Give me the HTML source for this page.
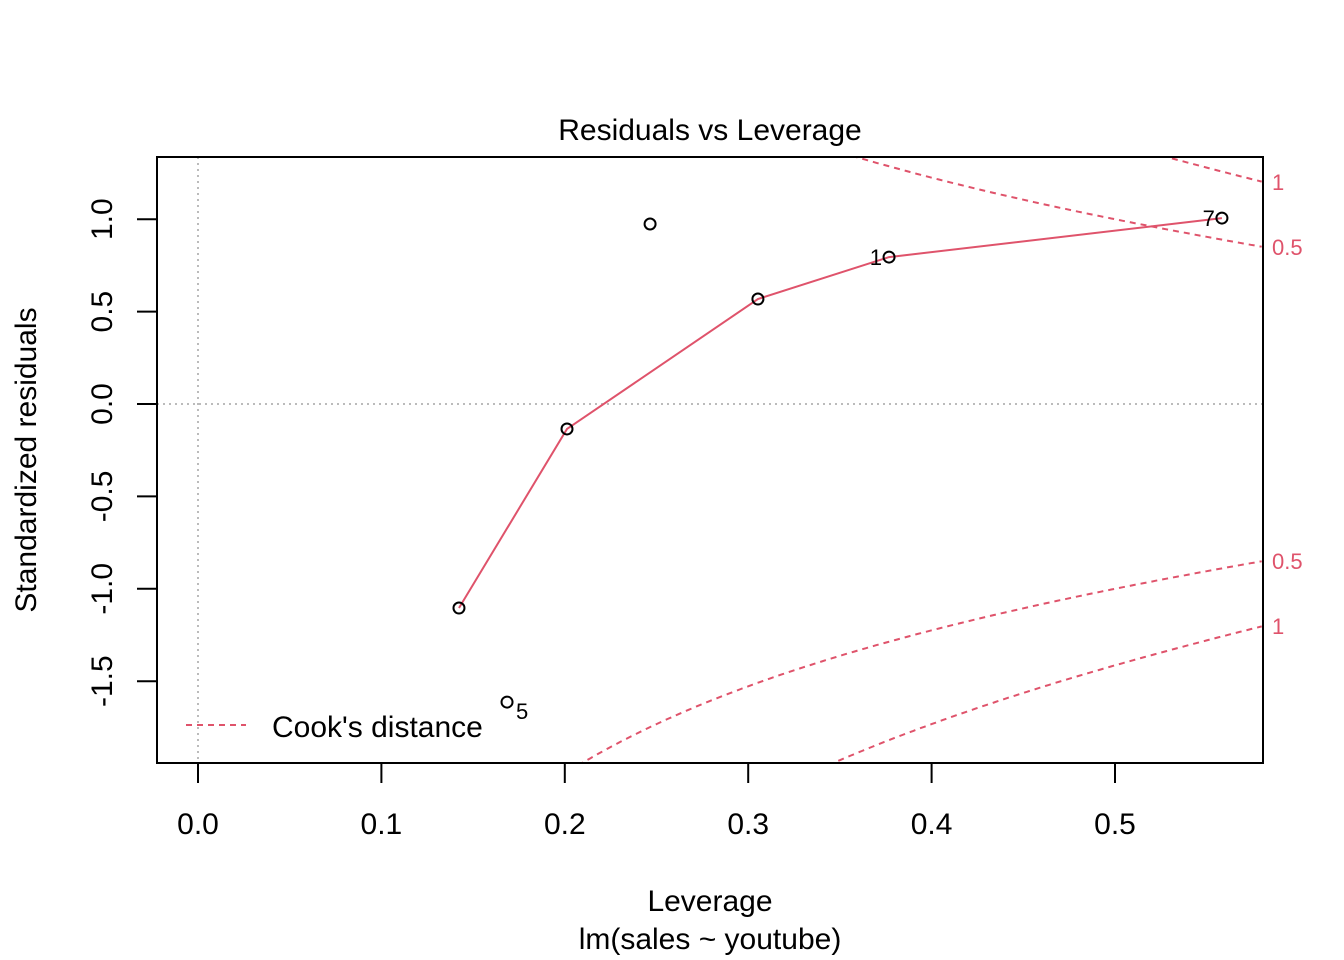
<!DOCTYPE html>
<html><head><meta charset="utf-8"><style>
html,body{margin:0;padding:0;background:#fff;overflow:hidden;width:1344px;height:960px}
svg{display:block}
svg text{font-family:"Liberation Sans",Arial,sans-serif}
</style></head><body>
<svg id="chart" width="1344" height="960">
<defs><clipPath id="clip"><rect x="157" y="157" width="1106" height="606"/></clipPath></defs>
<text x="710" y="140" font-size="30" text-anchor="middle">Residuals vs Leverage</text>
<text x="710" y="911" font-size="30" text-anchor="middle">Leverage</text>
<text x="710" y="949" font-size="30" text-anchor="middle">lm(sales ~ youtube)</text>
<text transform="translate(36,460) rotate(-90)" font-size="30" text-anchor="middle">Standardized residuals</text>
<g id="xaxis"></g>
<g id="yaxis"></g>
<g id="plot" clip-path="url(#clip)"></g>
<g id="pts"></g>
<g id="cooklabels"></g>
<rect x="157" y="157" width="1106" height="606" fill="none" stroke="#000" stroke-width="2"/>
<g>
<line x1="186" y1="725" x2="246" y2="725" stroke="#DF536B" stroke-width="2" stroke-dasharray="6,5"/>
<text x="272" y="737" font-size="30">Cook's distance</text>
</g>
</svg>
<script>
const leverage=[0.1423,0.1685,0.2012,0.2465,0.3053,0.3768,0.5583];
const residuals=[-1.104,-1.613,-0.135,0.974,0.568,0.795,1.006];
const pointIds=["","5","","","","1","7"];
const smoothX=[0.1423,0.2012,0.3053,0.3768,0.5583];
const smoothY=[-1.104,-0.135,0.568,0.795,1.006];
const xTicks=[0.0,0.1,0.2,0.3,0.4,0.5];
const yTicks=[1.0,0.5,0.0,-0.5,-1.0,-1.5];
const cookLevels=[0.5,1];
const NS="http://www.w3.org/2000/svg";
const X=v=>198+v*1834;
const Y=v=>404-v*184.8;
function mk(t,a,p){const e=document.createElementNS(NS,t);for(const k in a)e.setAttribute(k,a[k]);p.appendChild(e);return e;}
const xa=document.getElementById('xaxis'),ya=document.getElementById('yaxis'),pl=document.getElementById('plot'),pg=document.getElementById('pts'),cl=document.getElementById('cooklabels');
xTicks.forEach(t=>{const l=mk('line',{x1:X(t),x2:X(t),y1:763,y2:783,stroke:'#000','stroke-width':2},xa);


const tx=mk('text',{x:X(t),y:834,'font-size':30,'text-anchor':'middle'},xa);tx.textContent=t.toFixed(1);

});
yTicks.forEach(t=>{const l=mk('line',{x1:137,x2:157,y1:Y(t),y2:Y(t),stroke:'#000','stroke-width':2},ya);


const tx=mk('text',{transform:`translate(112,${Y(t)}) rotate(-90)`,'font-size':30,'text-anchor':'middle'},ya);tx.textContent=t.toFixed(1);

});
let g=mk('line',{x1:X(0),x2:X(0),y1:157,y2:763,stroke:'#bbb','stroke-width':2,'stroke-dasharray':'2,4'},pl);


g=mk('line',{x1:157,x2:1263,y1:Y(0),y2:Y(0),stroke:'#bbb','stroke-width':2,'stroke-dasharray':'2,4'},pl);


cookLevels.forEach(c=>{[1,-1].forEach(s=>{let d='';for(let h=0.01;h<=0.582;h+=0.002){const r=s*Math.sqrt(c*2*(1-h)/h);d+=(d?'L':'M')+X(h).toFixed(1)+','+Y(r).toFixed(1);}
const p=mk('path',{d:d,fill:'none',stroke:'#DF536B','stroke-width':2,'stroke-dasharray':'6,5'},pl);


const h=0.5807,r=s*Math.sqrt(c*2*(1-h)/h);
const tx=mk('text',{x:1272,y:Y(r)+8,'font-size':22,fill:'#DF536B'},cl);tx.textContent=String(c);

});});
const sp=mk('polyline',{points:smoothX.map((v,i)=>X(v)+','+Y(smoothY[i])).join(' '),fill:'none',stroke:'#DF536B','stroke-width':2},pl);


leverage.forEach((v,i)=>{const c=mk('circle',{cx:X(v),cy:Y(residuals[i]),r:5.5,fill:'none',stroke:'#000','stroke-width':2},pg);


if(pointIds[i]){const right=pointIds[i]==='5';
const tx=mk('text',{x:right?X(v)+9:X(v)-7,y:right?Y(residuals[i])+17:Y(residuals[i])+8,'font-size':22,'text-anchor':right?'start':'end'},pg);tx.textContent=pointIds[i];

}});
</script>
</body></html>
